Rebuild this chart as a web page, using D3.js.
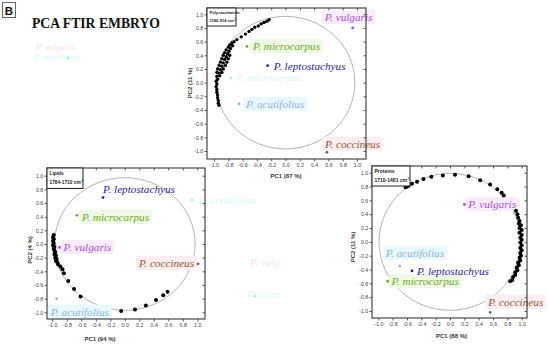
<!DOCTYPE html>
<html><head><meta charset="utf-8">
<script src="https://cdn.jsdelivr.net/npm/d3@7"></script>
<style>body{margin:0;background:#fff}svg{display:block}</style>
</head><body>
<svg id="chart" width="550" height="345"></svg>
<script>
// ---------------- data ----------------
const species = ["P. vulgaris","P. microcarpus","P. leptostachyus","P. acutifolius","P. coccineus"];
const speciesColors = ["#a052d8","#72a823","#1e1e9c","#93b2dc","#8a5a2c"];
const tickValues = [-1,-0.8,-0.6,-0.4,-0.2,0,0.2,0.4,0.6,0.8,1];
const tickLabels = ["-1.0","-0.8","-0.6","-0.4","-0.2","0.0","0.2","0.4","0.6","0.8","1.0"];

const panelNames = ["Polysaccharide","Lipids","Proteins"];
const panelRanges = ["1186-914 cm","1784-1710 cm","1710-1481 cm"];
const pc1Variance = [87, 94, 88];
const pc2Variance = [11, 4, 11];

// species scores (order = species)
const polyPC1 = [0.94,-0.54,-0.25,-0.65,0.58];
const polyPC2 = [0.80,0.53,0.25,-0.31,-1.02];
const lipPC1 = [-0.90,-0.66,-0.30,-0.94,1.01];
const lipPC2 = [-0.05,0.42,0.68,-0.80,-0.29];
const protPC1 = [0.20,-0.87,-0.53,-0.70,0.56];
const protPC2 = [0.54,-0.57,-0.42,-0.35,-1.02];

// variable loadings [PC1, PC2]
const polyLoadings = [[-0.23,0.92],[-0.26,0.90],[-0.30,0.88],[-0.34,0.86],[-0.38,0.83],[-0.43,0.81],[-0.47,0.78],[-0.51,0.75],[-0.56,0.71],[-0.62,0.67],[-0.68,0.63],
 [-0.72,0.60],[-0.75,0.58],[-0.74,0.54],[-0.78,0.55],[-0.77,0.50],[-0.80,0.52],[-0.79,0.46],[-0.83,0.48],[-0.81,0.42],[-0.85,0.44],[-0.78,0.40],[-0.83,0.38],[-0.87,0.40],
 [-0.80,0.35],[-0.85,0.34],[-0.89,0.35],[-0.82,0.30],[-0.87,0.29],[-0.91,0.30],[-0.84,0.25],[-0.89,0.24],[-0.93,0.25],[-0.87,0.20],[-0.91,0.19],[-0.95,0.20],
 [-0.89,0.15],[-0.93,0.14],[-0.96,0.15],[-0.92,0.10],[-0.96,0.09],[-0.95,0.05],[-0.97,0.02],[-0.96,-0.02],[-0.97,-0.06],[-0.96,-0.10],[-0.96,-0.14],[-0.95,-0.18],
 [-0.95,-0.22],[-0.94,-0.26],[-0.94,-0.30],[-0.93,-0.33]];
const lipLoadings = [[-0.98,0.13],[-0.99,0.10],[-0.98,0.07],[-0.99,0.04],[-0.98,0.01],[-0.99,-0.02],[-0.97,-0.04],[-0.98,-0.07],[-0.97,-0.10],[-0.96,-0.12],
 [-0.97,-0.15],[-0.95,-0.17],[-0.96,-0.20],[-0.94,-0.22],[-0.95,-0.25],[-0.93,-0.27],[-0.92,-0.30],[-0.89,-0.33],[-0.86,-0.37],[-0.84,-0.43],[-0.78,-0.54],
 [-0.70,-0.66],[-0.61,-0.77],[-0.05,-0.98],[0.14,-0.96],[0.29,-0.90],[0.43,-0.82],[0.53,-0.75],[0.59,-0.70]];
const protLoadings = [[-0.62,0.79],[-0.60,0.80],[-0.58,0.81],[-0.53,0.84],[-0.46,0.87],[-0.37,0.91],[-0.26,0.94],[-0.10,0.96],[0.07,0.97],[0.26,0.95],[0.42,0.89],
 [0.56,0.83],[0.66,0.76],[0.72,0.71],[0.75,0.67],
 [0.92,0.45],[0.94,0.40],[0.95,0.35],[0.97,0.30],[0.96,0.26],[0.99,0.24],[0.97,0.20],[1.0,0.17],[0.97,0.13],[1.0,0.10],[0.98,0.06],[1.0,0.03],[0.98,-0.01],
 [1.0,-0.05],[0.98,-0.09],[1.0,-0.12],[0.98,-0.16],[0.99,-0.20],[0.97,-0.23],[0.98,-0.27],[0.95,-0.30],[0.96,-0.34],[0.93,-0.37],[0.94,-0.41],[0.91,-0.44],
 [0.91,-0.48],[0.88,-0.51],[0.87,-0.55],[0.84,-0.57]];

// ---------------- layout ----------------
const layouts = [
 {frame:[207,8,366,159], xr:[214,357], yr:[151,14.3], r:0.97, ptR:1.7, legW:29, legH:18, legFs:4.1,
  xTitle:[286,178], yTitle:[192,83],
  off:[[-28,-7,"start"],[6,3.5,"start"],[6,4,"start"],[7,4,"start"],[-2,-4.6,"start"]]},
 {frame:[47,168,205,319], xr:[52.3,197.3], yr:[312.3,175.7], r:0.97, ptR:2, legW:36, legH:20.5, legFs:4.8,
  xTitle:[100,341], yTitle:[32,250],
  off:[[4,3.5,"start"],[5,5.5,"start"],[0,-5,"start"],[-6,17,"start"],[-4,3,"end"]]},
 {frame:[372,166,527,318], xr:[378.3,521.7], yr:[311,172.7], r:0.99, ptR:2, legW:38, legH:20, legFs:5,
  xTitle:[451.5,338], yTitle:[355,247],
  off:[[4,3.5,"start"],[4,4,"start"],[5,4,"start"],[-14,-9.5,"start"],[-2,-6.7,"start"]]}
];
const bgColors = ["#fcecfb","#eef9e6",null,"#e8f9fc","#fdedf0"];

const svg = d3.select("#chart");

// faint ghost artefacts
const ghosts = [
 {t:"P. vulgaris",x:36,y:50,c:"#f4c0f0"},{t:"P. acutifolius",x:34,y:60,c:"#bff3f8"},
 {t:"P. microcarpus",x:236,y:81,c:"#bff3f8"},
 {t:"P. acutifolius",x:199,y:204,c:"#bff3f8"},
 {t:"P. vulg",x:250,y:266,c:"#f6c8f2"},{t:"P. acuti",x:247,y:298,c:"#c8f4f8"}
];
svg.append("g").selectAll("text").data(ghosts).join("text")
  .attr("x",d=>d.x).attr("y",d=>d.y).text(d=>d.t)
  .attr("font-family","Liberation Serif, serif").attr("font-style","italic")
  .attr("font-size",d=>d.y<70?9:11).attr("fill",d=>d.c).attr("opacity",0.6);
svg.append("g").selectAll("circle").data([[68,58],[231,78],[192,200],[255,296]]).join("circle")
  .attr("cx",d=>d[0]).attr("cy",d=>d[1]).attr("r",1.3).attr("fill","#8ff0f8");

// B box + title
svg.append("rect").attr("x",2.5).attr("y",2.5).attr("width",13).attr("height",15)
  .attr("fill","#fff").attr("stroke","#666").attr("stroke-width",1);
svg.append("text").attr("x",9).attr("y",14.5).attr("text-anchor","middle")
  .attr("font-family","Liberation Sans, Arial, sans-serif").attr("font-weight","bold")
  .attr("font-size",11.5).attr("fill","#111").text("B");
svg.append("text").attr("x",32).attr("y",27.5)
  .attr("font-family","Liberation Serif, serif").attr("font-weight","bold")
  .attr("font-size",14).attr("textLength",128).attr("lengthAdjust","spacingAndGlyphs")
  .attr("fill","#111").text("PCA FTIR EMBRYO");

const datasets = [
 {name:panelNames[0], range:panelRanges[0], v1:pc1Variance[0], v2:pc2Variance[0], sx:polyPC1, sy:polyPC2, load:polyLoadings},
 {name:panelNames[1], range:panelRanges[1], v1:pc1Variance[1], v2:pc2Variance[1], sx:lipPC1, sy:lipPC2, load:lipLoadings},
 {name:panelNames[2], range:panelRanges[2], v1:pc1Variance[2], v2:pc2Variance[2], sx:protPC1, sy:protPC2, load:protLoadings}
];

function styleAxis(sel, fs){
  sel.select(".domain").remove();
  sel.selectAll(".tick line").attr("stroke","#333").attr("stroke-width",0.8);
  sel.selectAll(".tick text").attr("font-family","Liberation Sans, Arial, sans-serif")
     .attr("font-size",fs).attr("fill","#444");
}

datasets.forEach((d,i)=>{
  const L = layouts[i];
  const g = svg.append("g");
  const x = d3.scaleLinear().domain([-1,1]).range(L.xr);
  const y = d3.scaleLinear().domain([-1,1]).range(L.yr);
  const [fx0,fy0,fx1,fy1] = L.frame;

  g.append("ellipse").attr("cx",x(0)).attr("cy",y(0))
    .attr("rx",x(L.r)-x(0)).attr("ry",y(0)-y(L.r))
    .attr("fill","none").attr("stroke","#b4b4b4").attr("stroke-width",1);

  const sp = species.map((s,k)=>({name:s, c:speciesColors[k], px:d.sx[k], py:d.sy[k], k}));

  // label texts
  const lg = g.append("g");
  const labels = lg.selectAll("text").data(sp).join("text")
    .attr("x",p=>x(p.px)+L.off[p.k][0]).attr("y",p=>y(p.py)+L.off[p.k][1])
    .attr("text-anchor",p=>L.off[p.k][2])
    .attr("font-family","Liberation Serif, 'Times New Roman', serif").attr("font-style","italic")
    .attr("font-size",11.2).attr("fill",p=>p.c).text(p=>p.name);
  labels.each(function(p){
    if(!bgColors[p.k]) return;
    const b = this.getBBox();
    lg.insert("rect","text").attr("x",b.x-2).attr("y",b.y-1).attr("width",b.width+4).attr("height",b.height+2)
      .attr("fill",bgColors[p.k]);
  });

  // loadings
  g.append("g").selectAll("circle").data(d.load).join("circle")
    .attr("cx",p=>x(p[0])).attr("cy",p=>y(p[1])).attr("r",L.ptR).attr("fill","#000");

  // species points
  g.append("g").selectAll("circle").data(sp).join("circle")
    .attr("cx",p=>x(p.px)).attr("cy",p=>y(p.py)).attr("r",1.4).attr("fill",p=>p.c);

  // frame
  g.append("rect").attr("x",fx0).attr("y",fy0).attr("width",fx1-fx0).attr("height",fy1-fy0)
    .attr("fill","none").attr("stroke","#222").attr("stroke-width",1);

  const fmt = v=>tickLabels[tickValues.findIndex(t=>Math.abs(t-v)<1e-9)];
  const ax = g.append("g").attr("transform",`translate(${fx0},0)`)
    .call(d3.axisLeft(y).tickValues(tickValues).tickFormat(fmt).tickSize(2.5).tickPadding(1.2));
  styleAxis(ax,5.3);
  const bx = g.append("g").attr("transform",`translate(0,${fy1})`)
    .call(d3.axisBottom(x).tickValues(tickValues).tickFormat(fmt).tickSize(2.5).tickPadding(1.5));
  styleAxis(bx,5.3);
  const rx = g.append("g").attr("transform",`translate(${fx1},0)`)
    .call(d3.axisLeft(y).tickValues(tickValues).tickFormat("").tickSize(2.5));
  styleAxis(rx,5);
  const tx = g.append("g").attr("transform",`translate(0,${fy0})`)
    .call(d3.axisBottom(x).tickValues(tickValues).tickFormat("").tickSize(2.5));
  styleAxis(tx,5);

  // axis titles
  g.append("text").attr("x",L.xTitle[0]).attr("y",L.xTitle[1]).attr("text-anchor","middle")
    .attr("font-family","Liberation Sans, Arial, sans-serif").attr("font-weight","bold")
    .attr("font-size",6).attr("fill","#333").text(`PC1 (${d.v1} %)`);
  g.append("text").attr("transform",`translate(${L.yTitle[0]},${L.yTitle[1]}) rotate(-90)`)
    .attr("text-anchor","middle")
    .attr("font-family","Liberation Sans, Arial, sans-serif").attr("font-weight","bold")
    .attr("font-size",6).attr("fill","#333").text(`PC2 (${d.v2} %)`);

  // legend box
  g.append("rect").attr("x",fx0).attr("y",fy0).attr("width",L.legW).attr("height",L.legH)
    .attr("fill","#fff").attr("stroke","#222").attr("stroke-width",1);
  const lt = g.append("text").attr("font-family","Liberation Sans, Arial, sans-serif")
    .attr("font-weight","bold").attr("font-size",L.legFs).attr("fill","#222");
  lt.append("tspan").attr("x",fx0+2.5).attr("y",fy0+L.legH*0.36).text(d.name);
  lt.append("tspan").attr("x",fx0+2.5).attr("y",fy0+L.legH*0.78).text(d.range);
  lt.append("tspan").attr("dy",-L.legFs*0.35).attr("font-size",L.legFs*0.65).text("-1");
});
</script>
</body></html>
